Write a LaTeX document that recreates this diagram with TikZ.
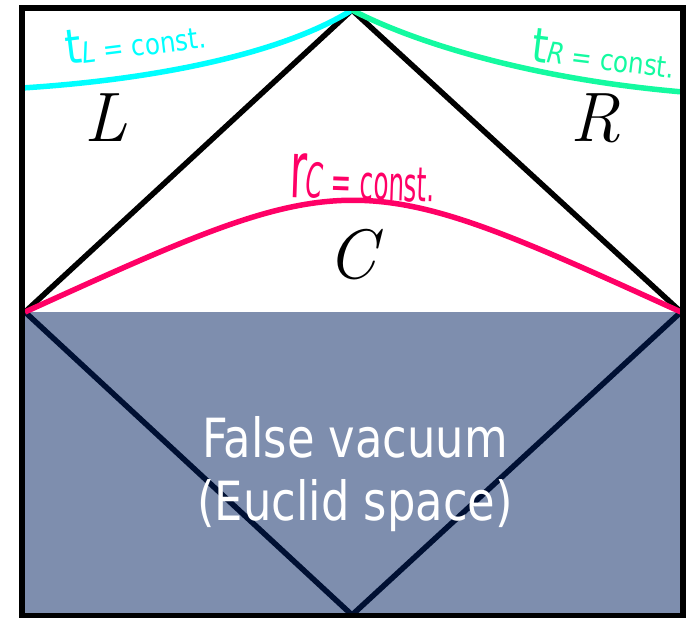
\documentclass[tikz,border=0pt]{standalone}
\usepackage{fontspec}
\usepackage{xcolor}
\usepackage{tikz}
\newfontfamily\tah{DejaVu Sans}
\definecolor{vacgray}{RGB}{126,142,174}
\definecolor{navy}{RGB}{0,16,51}
\definecolor{cyanL}{RGB}{0,255,255}
\definecolor{greenR}{RGB}{20,250,160}
\definecolor{pinkC}{RGB}{255,0,102}
\newcommand{\constlbl}[3]{\scalebox{0.85}[#3]{\tah\fontsize{29}{29}\selectfont{\fontsize{48}{48}\selectfont #1}\textit{#2} = const.}}

\begin{document}
\begin{tikzpicture}[x=1pt,y=-1pt,
 wall/.style={draw=black,line width=6pt},
 cone/.style={line width=5.5pt},
 slice/.style={line width=5.5pt},
 lbl/.style={inner sep=0pt,anchor=base west},
 region/.style={inner sep=0pt,font=\fontsize{70}{70}\selectfont\itshape},
 vac/.style={text=white,inner sep=0pt,anchor=base,font=\tah\fontsize{54}{54}\selectfont}]
\useasboundingbox (0,0) rectangle (686,618);
\coordinate (lc) at (25,312); \coordinate (rc) at (681,312);
\coordinate (top) at (352,10); \coordinate (bot) at (352,615);
\coordinate (lend) at (22,88); \coordinate (rend) at (683,92);
\fill[vacgray] (22,312) rectangle (683,616);
\draw[cone,draw=navy] (lc) -- (bot) -- (rc);
\draw[cone] (lc) -- (top) -- (rc);
\draw[slice,draw=cyanL] (lend) .. controls (150,80) and (280,55) .. (top);
\draw[slice,draw=greenR] (top) .. controls (405,38) and (520,78) .. (rend);
\draw[slice,draw=pinkC] (lc) .. controls (353,163) .. (rc);
\draw[wall] (22,8) rectangle (683,616);
\node[lbl,text=cyanL,rotate=7] (tl) at (67,65) {\constlbl{t}{L}{1}};
\node[lbl,text=greenR,rotate=-7] (tr) at (530,61) {\constlbl{t}{R}{1}};
\node[lbl,text=pinkC,rotate=-2] (rcl) at (289,197) {\constlbl{r}{C}{1.65}};
\node[region] (L) at (106,118) {L};
\node[region] (R) at (595,118) {R};
\node[region] (C) at (352,255) {C};
\node[vac] (fv) at (355,457) {\scalebox{0.83}[1]{False vacuum}};
\node[vac] (eu) at (355,520) {\scalebox{0.83}[1]{(Euclid space)}};
\end{tikzpicture}
\end{document}
